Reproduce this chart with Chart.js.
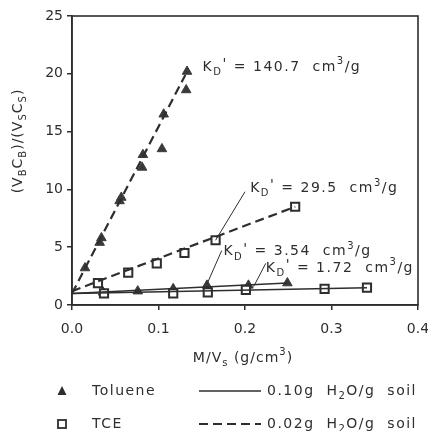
<!DOCTYPE html>
<html>
<head>
<meta charset="utf-8">
<script src="https://cdn.jsdelivr.net/npm/chart.js@4/dist/chart.umd.min.js"></script>
<style>
  html, body { margin: 0; padding: 0; background: #fff; }
</style>
</head>
<body>
<canvas id="chart" width="428" height="431"></canvas>
<script>
// --- data ---
// Toluene, 0.02 g H2O/g soil (dashed fit)
const tolDryX = [0.015, 0.032, 0.034, 0.055, 0.057, 0.081, 0.082, 0.104, 0.106, 0.132, 0.133];
const tolDryY = [3.2, 5.4, 5.8, 9.0, 9.3, 11.9, 13.0, 13.5, 16.5, 18.6, 20.2];
// Toluene, 0.10 g H2O/g soil (solid fit)
const tolWetX = [0.036, 0.076, 0.117, 0.156, 0.204, 0.249];
const tolWetY = [1.1, 1.2, 1.4, 1.7, 1.7, 1.9];
// TCE, 0.02 g H2O/g soil (dashed fit)
const tceDryX = [0.030, 0.065, 0.098, 0.130, 0.166, 0.258];
const tceDryY = [1.9, 2.8, 3.6, 4.5, 5.6, 8.5];
// TCE, 0.10 g H2O/g soil (solid fit)
const tceWetX = [0.037, 0.117, 0.157, 0.201, 0.292, 0.341];
const tceWetY = [1.0, 1.0, 1.1, 1.3, 1.4, 1.5];

// fitted lines (end points)
const tolDryFitX = [0, 0.131];
const tolDryFitY = [1.0, 19.9];
const tceDryFitX = [0, 0.258];
const tceDryFitY = [1.2, 8.5];
const tolWetFitX = [0, 0.249];
const tolWetFitY = [1.0, 1.9];
const tceWetFitX = [0, 0.341];
const tceWetFitY = [1.0, 1.5];

const xTicks = [0, 0.1, 0.2, 0.3, 0.4];
const yTicks = [0, 5, 10, 15, 20, 25];

const kdValues = ['140.7', '29.5', '3.54', '1.72'];

const INK = '#2e2e2e';
const FONT = '"DejaVu Sans", sans-serif';

const pts = (xs, ys) => xs.map((x, i) => ({ x: x, y: ys[i] }));

// label placement (data units): left edge / middle of each K_D' label, plus leader line
const kdLabels = [
    { x: 0.151, y: 20.6, lead: null },
    { x: 0.206, y: 10.1, lead: [0.200, 9.8, 0.166, 5.6] },
    { x: 0.175, y: 4.6, lead: [0.173, 4.7, 0.156, 1.8] },
    { x: 0.224, y: 3.2, lead: [0.224, 3.6, 0.210, 1.6] }
];

// rich text: parts = [[text, 0 normal | -1 sub | 1 sup | 2 raised full size], ...]
function partFont(m, size) {
    return `${(m === -1 || m === 1) ? Math.round(size * 0.72) : size}px ${FONT}`;
}
function richWidth(ctx, parts, size) {
    let w = 0;
    parts.forEach(([t, m]) => {
        ctx.font = partFont(m, size);
        w += ctx.measureText(t).width;
    });
    return w;
}
function drawRich(ctx, x, y, parts, size) {
    ctx.textBaseline = 'middle';
    ctx.textAlign = 'left';
    parts.forEach(([t, m]) => {
        ctx.font = partFont(m, size);
        const dy = m === -1 ? size * 0.38 : (m === 1 ? -size * 0.38 : (m === 2 ? -size * 0.2 : 0));
        ctx.fillText(t, x, y + dy);
        x += ctx.measureText(t).width;
    });
}

const decor = {
    id: 'decor',
    afterDraw(chart) {
        const ctx = chart.ctx;
        const a = chart.chartArea;
        const xs = chart.scales.x, ys = chart.scales.y;
        ctx.save();
        ctx.strokeStyle = INK;
        ctx.fillStyle = INK;
        ctx.lineWidth = 1.6;
        ctx.strokeRect(a.left, a.top, a.right - a.left, a.bottom - a.top);
        ctx.letterSpacing = '1.5px';

        // K_D' labels + leaders
        kdLabels.forEach((lb, i) => {
            drawRich(ctx, xs.getPixelForValue(lb.x), ys.getPixelForValue(lb.y),
                [['K', 0], ['D', -1], ["'", 2], [' = ' + kdValues[i] + '  cm', 0], ['3', 1], ['/g', 0]], 14);
            if (lb.lead) {
                ctx.lineWidth = 1;
                ctx.beginPath();
                ctx.moveTo(xs.getPixelForValue(lb.lead[0]), ys.getPixelForValue(lb.lead[1]));
                ctx.lineTo(xs.getPixelForValue(lb.lead[2]), ys.getPixelForValue(lb.lead[3]));
                ctx.stroke();
            }
        });

        ctx.letterSpacing = '1px';
        // x title
        const xt = [['M/V', 0], ['s', -1], [' (g/cm', 0], ['3', 1], [')', 0]];
        drawRich(ctx, 243 - richWidth(ctx, xt, 14) / 2, 358, xt, 14);

        // y title (rotated)
        const yt = [['(V', 0], ['B', -1], ['C', 0], ['B', -1], [')/(V', 0], ['S', -1], ['C', 0], ['S', -1], [')', 0]];
        ctx.save();
        ctx.translate(18, 141);
        ctx.rotate(-Math.PI / 2);
        drawRich(ctx, -richWidth(ctx, yt, 14) / 2, 0, yt, 14);
        ctx.restore();

        // legend
        ctx.letterSpacing = '1.5px';
        const rows = [
            { y: 391, name: 'Toluene', wet: '0.10g', dash: [] },
            { y: 424, name: 'TCE', wet: '0.02g', dash: [9, 5] }
        ];
        rows.forEach((r, i) => {
            ctx.lineWidth = 1.8;
            ctx.setLineDash([]);
            if (i === 0) {
                ctx.beginPath();
                ctx.moveTo(62, r.y - 5);
                ctx.lineTo(66.5, r.y + 4);
                ctx.lineTo(57.5, r.y + 4);
                ctx.closePath();
                ctx.fill();
            } else {
                ctx.fillStyle = '#fff';
                ctx.fillRect(58, r.y - 4, 8, 8);
                ctx.fillStyle = INK;
                ctx.strokeRect(58, r.y - 4, 8, 8);
            }
            drawRich(ctx, 92, r.y, [[r.name, 0]], 14);
            ctx.setLineDash(r.dash);
            ctx.lineWidth = i === 0 ? 1.5 : 2;
            ctx.beginPath();
            ctx.moveTo(199, r.y);
            ctx.lineTo(261, r.y);
            ctx.stroke();
            ctx.setLineDash([]);
            drawRich(ctx, 267, r.y, [[r.wet + '  H', 0], ['2', -1], ['O/g  soil', 0]], 14);
        });
        ctx.restore();
    }
};

const fitLine = (data, dashed) => ({
    type: 'line',
    data: data,
    borderColor: INK,
    borderWidth: dashed ? 2.2 : 1.5,
    borderDash: dashed ? [9, 5] : [],
    pointRadius: 0,
    showLine: true,
    fill: false
});
const triSet = (data) => ({
    type: 'scatter',
    data: data,
    pointStyle: 'triangle',
    pointRadius: 5.5,
    backgroundColor: '#3a3a3a',
    borderColor: '#3a3a3a',
    borderWidth: 1
});
const sqSet = (data) => ({
    type: 'scatter',
    data: data,
    pointStyle: 'rect',
    pointRadius: 5.8,
    backgroundColor: '#fff',
    borderColor: INK,
    borderWidth: 2
});

new Chart(document.getElementById('chart'), {
    data: {
        datasets: [
            fitLine(pts(tolDryFitX, tolDryFitY), true),
            fitLine(pts(tceDryFitX, tceDryFitY), true),
            fitLine(pts(tolWetFitX, tolWetFitY), false),
            fitLine(pts(tceWetFitX, tceWetFitY), false),
            sqSet(pts(tceDryX, tceDryY)),
            sqSet(pts(tceWetX, tceWetY)),
            triSet(pts(tolDryX, tolDryY)),
            triSet(pts(tolWetX, tolWetY))
        ]
    },
    options: {
        responsive: false,
        devicePixelRatio: 1,
        animation: false,
        layout: { padding: { left: 0, right: 10, top: 16, bottom: 0 } },
        plugins: { legend: { display: false }, tooltip: { enabled: false } },
        scales: {
            x: {
                type: 'linear', min: 0, max: 0.4,
                afterBuildTicks: (s) => { s.ticks = xTicks.map(v => ({ value: v })); },
                afterFit: (s) => { s.height = 126; s.paddingLeft = 0; s.paddingRight = 0; },
                ticks: { color: INK, font: { family: FONT, size: 14 }, padding: 11,
                    callback: (v) => v.toFixed(1), maxRotation: 0 },
                grid: { drawOnChartArea: false, drawTicks: true, tickLength: 5, color: INK, lineWidth: 1.5 },
                border: { color: INK, width: 1.6 }
            },
            y: {
                type: 'linear', min: 0, max: 25,
                afterBuildTicks: (s) => { s.ticks = yTicks.map(v => ({ value: v })); },
                afterFit: (s) => { s.width = 72; s.paddingTop = 0; s.paddingBottom = 0; },
                ticks: { color: INK, font: { family: FONT, size: 14 }, padding: 4 },
                grid: { drawOnChartArea: false, drawTicks: true, tickLength: 5, color: INK, lineWidth: 1.5 },
                border: { color: INK, width: 1.6 }
            }
        }
    },
    plugins: [decor]
});
</script>
</body>
</html>
